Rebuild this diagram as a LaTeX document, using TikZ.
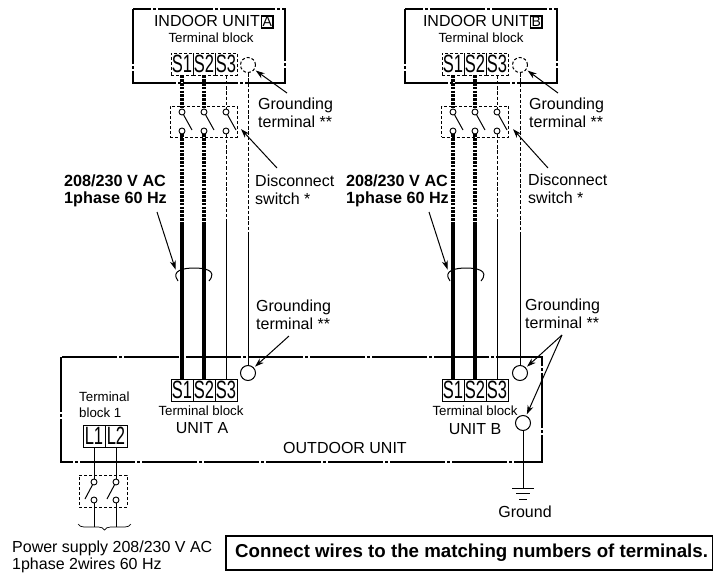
\documentclass[tikz,border=0pt]{standalone}
\usepackage{fontspec}
\setmainfont{Liberation Sans}
\usetikzlibrary{arrows.meta,decorations.pathreplacing}
\tikzstyle{arrow} = [-{Stealth[length=9pt,width=6pt]},line width=1pt,shorten >=1.5pt]
\tikzstyle{unit} = [draw,line width=1.3pt,dash pattern=on 55pt off 2pt on 3pt off 2pt]
\tikzstyle{txt} = [inner sep=0pt,font=\fontsize{16}{17.5}\selectfont,anchor=west,align=left]
\tikzstyle{ctxt} = [inner sep=0pt,font=\fontsize{16}{18}\selectfont]
\tikzstyle{small} = [inner sep=0pt,font=\fontsize{13.3}{16}\selectfont]
\tikzstyle{bold} = [inner sep=0pt,font=\bfseries\fontsize{16.2}{17.5}\selectfont,anchor=west,align=left]
\tikzstyle{term} = [draw,line width=0.9pt,inner sep=0pt,minimum width=22pt,minimum height=22pt,font=\fontsize{25}{25}\selectfont]
\tikzstyle{dterm} = [term,densely dashed]
\tikzstyle{contact} = [draw,circle,line width=0.9pt,inner sep=0pt,minimum size=6pt]
\tikzstyle{earth} = [draw,circle,inner sep=0pt,minimum size=15pt,line width=1pt]
\tikzstyle{swbox} = [draw,line width=0.9pt,densely dashed,inner sep=0pt]
\tikzstyle{heavy} = [line width=3.2pt]
\tikzstyle{heavydot} = [line width=3.2pt,dash pattern=on 2.6pt off 1.2pt]
\tikzstyle{wire} = [line width=1pt]
\tikzstyle{wiredash} = [line width=1pt,dash pattern=on 3.5pt off 1.8pt]
\newcommand{\tname}[1]{\scalebox{0.66}[1]{#1}}
\newcommand{\boxA}{\fbox{\fontsize{14}{14}\selectfont A}}
\begin{document}
\begin{tikzpicture}[x=1pt,y=-1pt]
        \useasboundingbox (0,0) rectangle (713,576);
        \fboxsep=0.3pt
        \fboxrule=1.6pt

        % indoor unit A
        \draw[unit] (133,9) rectangle (285,83);
        \node[ctxt] at (214,22) (indA) {INDOOR UNIT\hspace{1pt}\boxA};
        \node[small] at (211,38) (tbA) {Terminal block};
        \node[dterm] at (182,64) (inS1a) {\tname{S1}};
        \node[dterm] at (204,64) (inS2a) {\tname{S2}};
        \node[dterm] at (226,64) (inS3a) {\tname{S3}};
        \node[earth,densely dashed,wire] at (248,65) (inGa) {};

        \node[swbox,minimum width=67pt,minimum height=31pt] at (203.5,121.5) (swa) {};
        \node[contact] at (182,112) (ct1a) {};
        \node[contact] at (204,112) (ct2a) {};
        \node[contact] at (226,112) (ct3a) {};
        \node[contact] at (182,131) (cb1a) {};
        \node[contact] at (204,131) (cb2a) {};
        \node[contact] at (226,131) (cb3a) {};
        \draw[wire] (ct1a) -- ++(10,18);
        \draw[wire] (ct2a) -- ++(10,18);
        \draw[wire] (ct3a) -- ++(10,18);

        \coordinate (j1a) at (182,224);
        \coordinate (j2a) at (204,224);
        \coordinate (j3a) at (226,222);
        \coordinate (j4a) at (248,232);

        % outdoor unit
        \draw[unit] (61,357) rectangle (542,462);
        \node[term] at (182,390) (outS1a) {\tname{S1}};
        \node[term] at (204,390) (outS2a) {\tname{S2}};
        \node[term] at (226,390) (outS3a) {\tname{S3}};
        \node[earth] at (248,373) (outGa) {};
        \node[small] at (201,411) (tboA) {Terminal block};
        \node[ctxt] at (202,428) (unitA) {UNIT A};

        \draw[heavydot] (inS1a) -- (ct1a);
        \draw[heavydot] (inS2a) -- (ct2a);
        \draw[wiredash] (inS3a) -- (ct3a);
        \draw[heavydot] (cb1a) -- (j1a);
        \draw[heavydot] (cb2a) -- (j2a);
        \draw[wiredash] (cb3a) -- (j3a);
        \draw[heavy] (j1a) -- (outS1a);
        \draw[heavy] (j2a) -- (outS2a);
        \draw[wire] (j3a) -- (outS3a);
        \draw[wiredash] (inGa) -- (j4a);
        \draw[wire] (j4a) -- (outGa);

        % indoor unit B
        \draw[unit] (405,9) rectangle (557,83);
        \node[ctxt] at (483,22) (indB) {INDOOR UNIT\hspace{1pt}\fbox{\fontsize{14}{14}\selectfont B}};
        \node[small] at (481,38) (tbB) {Terminal block};
        \node[dterm] at (453,64) (inS1b) {\tname{S1}};
        \node[dterm] at (475,64) (inS2b) {\tname{S2}};
        \node[dterm] at (497,64) (inS3b) {\tname{S3}};
        \node[earth,densely dashed,wire] at (520,65) (inGb) {};

        \node[swbox,minimum width=67pt,minimum height=31pt] at (475,121.5) (swb) {};
        \node[contact] at (453,112) (ct1b) {};
        \node[contact] at (475,112) (ct2b) {};
        \node[contact] at (497,112) (ct3b) {};
        \node[contact] at (453,131) (cb1b) {};
        \node[contact] at (475,131) (cb2b) {};
        \node[contact] at (497,131) (cb3b) {};
        \draw[wire] (ct1b) -- ++(10,18);
        \draw[wire] (ct2b) -- ++(10,18);
        \draw[wire] (ct3b) -- ++(10,18);

        \coordinate (j1b) at (453,224);
        \coordinate (j2b) at (475,224);
        \coordinate (j3b) at (497,222);
        \coordinate (j4b) at (520,232);

        \node[term] at (453,390) (outS1b) {\tname{S1}};
        \node[term] at (475,390) (outS2b) {\tname{S2}};
        \node[term] at (497,390) (outS3b) {\tname{S3}};
        \node[earth] at (520,373) (outGb) {};
        \node[earth] at (523,423) (gnd) {};
        \node[small] at (475,411) (tboB) {Terminal block};
        \node[ctxt] at (475,429) (unitB) {UNIT B};
        \node[ctxt] at (345,448) (outd) {OUTDOOR UNIT};

        \draw[heavydot] (inS1b) -- (ct1b);
        \draw[heavydot] (inS2b) -- (ct2b);
        \draw[wiredash] (inS3b) -- (ct3b);
        \draw[heavydot] (cb1b) -- (j1b);
        \draw[heavydot] (cb2b) -- (j2b);
        \draw[wiredash] (cb3b) -- (j3b);
        \draw[heavy] (j1b) -- (outS1b);
        \draw[heavy] (j2b) -- (outS2b);
        \draw[wire] (j3b) -- (outS3b);
        \draw[wiredash] (inGb) -- (j4b);
        \draw[wire] (j4b) -- (outGb);

        % ground
        \coordinate (g1) at (523,488);
        \coordinate (g2) at (512,488);
        \coordinate (g3) at (534,488);
        \coordinate (g4) at (516,493.5);
        \coordinate (g5) at (530,493.5);
        \coordinate (g6) at (519,499);
        \coordinate (g7) at (527,499);
        \draw[wire] (gnd) -- (g1);
        \draw[wire] (g2) -- (g3);
        \draw[wire] (g4) -- (g5);
        \draw[wire] (g6) -- (g7);
        \node[ctxt] at (525,512) (gtxt) {Ground};

        % labels and arrows
        \node[txt] at (258,113) (glA) {Grounding\\terminal **};
        \node[txt] at (529,113) (glB) {Grounding\\terminal **};
        \node[txt] at (255,190) (dsA) {Disconnect\\switch *};
        \node[txt] at (528,189) (dsB) {Disconnect\\switch *};
        \node[txt] at (256,315) (goA) {Grounding\\terminal **};
        \node[txt] at (525,314) (goB) {Grounding\\terminal **};
        \node[bold] at (64,191) (vA) {208/230 V AC\\1phase 60 Hz};
        \node[bold] at (346,191) (vB) {208/230 V AC\\1phase 60 Hz};

        \coordinate (a1) at (287,93);
        \coordinate (a2) at (558,93);
        \coordinate (a3) at (277,168);
        \coordinate (a4) at (548,168);
        \coordinate (a5) at (289,336);
        \coordinate (a6) at (562,335);
        \coordinate (a7) at (157,212);
        \coordinate (a8) at (429,212);
        \coordinate (t3) at (240,128);
        \coordinate (t4) at (512,128);
        \coordinate (t7) at (176,271);
        \coordinate (t8) at (448,271);
        \draw[arrow] (a1) -- (inGa);
        \draw[arrow] (a2) -- (inGb);
        \draw[arrow] (a3) -- (t3);
        \draw[arrow] (a4) -- (t4);
        \draw[arrow] (a5) -- (outGa);
        \draw[arrow] (a6) -- (outGb);
        \draw[arrow] (a6) -- (gnd);
        \draw[arrow] (a7) -- (t7);
        \draw[arrow] (a8) -- (t8);

        % cable loops
        \draw[wire] (178,281) .. controls (170,270) and (185,268) .. (194,268) .. controls (204,268) and (218,270) .. (209,281);
        \draw[wire] (450,281) .. controls (442,270) and (457,268) .. (466,268) .. controls (476,268) and (490,270) .. (481,281);

        % power supply
        \node[small,anchor=west,align=left] at (79,405) (tb1) {Terminal\\block 1};
        \node[term] at (94,436) (L1) {\tname{L1}};
        \node[term] at (116,436) (L2) {\tname{L2}};
        \node[swbox,minimum width=48pt,minimum height=32pt] at (103,491) (swp) {};
        \node[contact] at (94,482) (ctL1) {};
        \node[contact] at (116,482) (ctL2) {};
        \node[contact] at (94,500) (cbL1) {};
        \node[contact] at (116,500) (cbL2) {};
        \coordinate (bl1) at (85,499);
        \coordinate (bl2) at (107,499);
        \draw[wire] (ctL1) -- (bl1);
        \draw[wire] (ctL2) -- (bl2);
        \draw[wire] (L1) -- (ctL1);
        \draw[wire] (L2) -- (ctL2);
        \coordinate (e1) at (94,527);
        \coordinate (e2) at (116,527);
        \draw[wire] (cbL1) -- (e1);
        \draw[wire] (cbL2) -- (e2);
        \coordinate (br1) at (78,524);
        \coordinate (br2) at (131,524);
        \draw[line width=0.7pt,decorate,decoration={brace,mirror,amplitude=6pt}] (br1) -- (br2);
        \node[txt] at (12,557) (pw) {Power supply 208/230 V AC\\1phase 2wires 60 Hz};

        % note
        \node[draw,line width=1.5pt,minimum width=487pt,minimum height=34pt,inner sep=0pt] at (469.5,553) (note) {};
        \node[inner sep=0pt,anchor=west,font=\bfseries\fontsize{18.7}{20}\selectfont] at (235,553) (ntxt) {Connect wires to the matching numbers of terminals.};
\end{tikzpicture}
\end{document}
